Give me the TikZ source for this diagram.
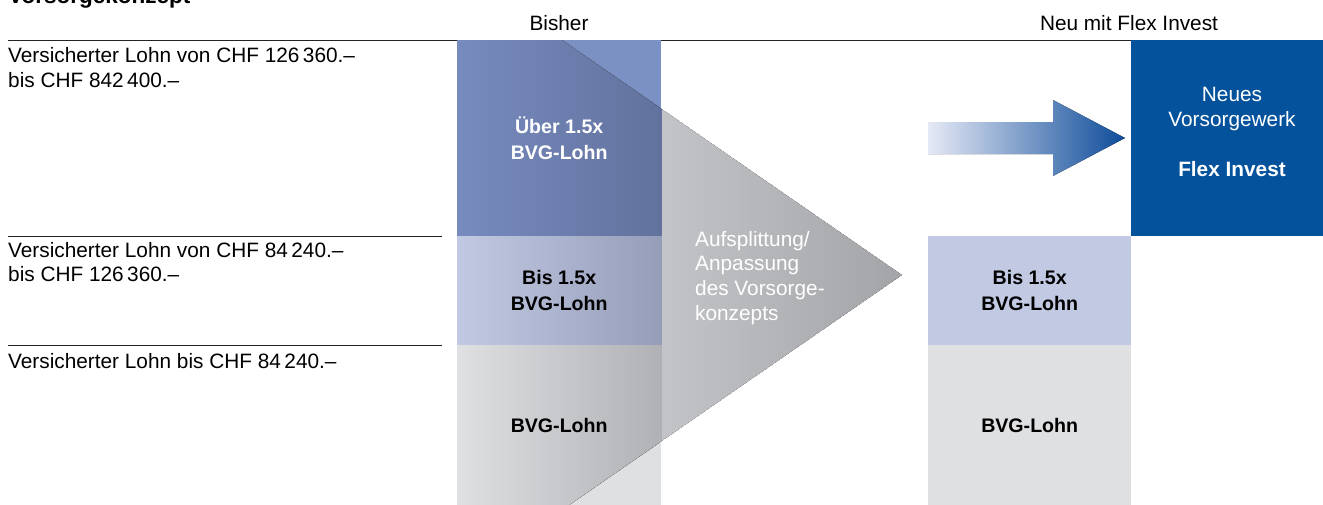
\documentclass[tikz,border=0pt]{standalone}
\usepackage{fontspec}
\setmainfont{Liberation Sans}
\usepackage{tikz}
\usetikzlibrary{positioning}
\usepackage{xcolor}

\definecolor{blueTop}{RGB}{123,145,196}
\definecolor{blueTopL}{RGB}{119,139,190}
\definecolor{blueTopR}{RGB}{98,114,158}
\definecolor{blueMid}{RGB}{193,201,227}
\definecolor{blueMidR}{RGB}{150,157,184}
\definecolor{greyLow}{RGB}{223,224,226}
\definecolor{greyLowR}{RGB}{176,177,181}
\definecolor{triL}{RGB}{222,223,227}
\definecolor{triR}{RGB}{163,164,168}
\definecolor{flexBlue}{RGB}{4,82,156}
\definecolor{arrowL}{RGB}{230,233,245}
\definecolor{arrowR}{RGB}{14,76,154}
\definecolor{ruleGrey}{RGB}{35,35,35}

\tikzset{
	txt/.style={font=\fontsize{20.8}{24.8}\selectfont, inner sep=0pt},
	boldtxt/.style={font=\fontsize{19.6}{25.5}\selectfont\bfseries, inner sep=0pt, align=center},
	colbox/.style={anchor=north west, inner sep=0pt, minimum width=204pt, draw=none},
	hrule/.style={draw=ruleGrey, line width=1pt}
}

\begin{document}
\begin{tikzpicture}[x=1pt,y=-1pt]
		\useasboundingbox (0,0) rectangle (1323,504);

		% titles and rules
		\node[font=\fontsize{22.5}{26}\selectfont\bfseries, anchor=base west, inner sep=0pt] (title) at (8,3) {Vorsorgekonzept};
		\node[txt, anchor=base] (hBisher) at (559,30.5) {Bisher};
		\node[txt, anchor=base] (hNeu) at (1129,30) {Neu mit Flex Invest};
		\draw[hrule] (8,40) -- (1323,40);
		\draw[hrule] (8,236) -- (442,236);
		\draw[hrule] (8,345) -- (442,345);

		\node[txt, align=left, anchor=base west] (lohnA) at (8,87.3) {Versicherter Lohn von CHF 126\,360.–\\bis CHF 842\,400.–};
		\node[txt, align=left, anchor=base west] (lohnB) at (8,281.8) {Versicherter Lohn von CHF 84\,240.–\\bis CHF 126\,360.–};
		\node[txt, align=left, anchor=base west] (lohnC) at (8,368.3) {Versicherter Lohn bis CHF 84\,240.–};

		% bisher column
		\node[colbox, fill=blueTop, minimum height=196pt] (bTop) at (457,40) {};
		\node[colbox, fill=blueMid, minimum height=109pt] (bMid) at (457,236) {};
		\node[colbox, fill=greyLow, minimum height=160pt] (bLow) at (457,345) {};

		% triangle
		\coordinate (tA) at (457,-32.5);
		\coordinate (tip) at (902,275);
		\coordinate (tB) at (457,582.5);
		\begin{scope}
			\clip (0,40) rectangle (1323,504);
			\clip (tA) -- (tip) -- (tB) -- cycle;
			\fill[left color=triL, right color=triR] (tA) -- (tip) -- (tB) -- cycle;
			\fill[left color=blueTopL, right color=blueTopR] (bTop.north west) rectangle (bTop.south east);
			\fill[left color=blueMid, right color=blueMidR] (bMid.north west) rectangle (bMid.south east);
			\fill[left color=greyLow, right color=greyLowR] (bLow.north west) rectangle (bLow.south east);
		\end{scope}

		% neu column
		\node[colbox, fill=flexBlue, minimum width=192pt, minimum height=196pt] (nFlex) at (1131,40) {};
		\node[colbox, fill=blueMid, minimum width=203pt, minimum height=109pt] (nMid) at (928,236) {};
		\node[colbox, fill=greyLow, minimum width=203pt, minimum height=160pt] (nLow) at (928,345) {};

		\fill[left color=arrowL, right color=arrowR] (928,122) -- (1053,122) -- (1053,100) -- (1125,138)
			-- (1053,176) -- (1053,154) -- (928,154) -- cycle;

		% box labels
		\node[boldtxt, text=white] (lTop) at (bTop.center) {Über 1.5x\\BVG-Lohn};
		\node[boldtxt] (lMid) at (bMid.center) {Bis 1.5x\\BVG-Lohn};
		\node[boldtxt] (lLow) at (bLow.center) {BVG-Lohn};
		\node[boldtxt] (rMid) at (nMid.center) {Bis 1.5x\\BVG-Lohn};
		\node[boldtxt] (rLow) at (nLow.center) {BVG-Lohn};
		\node[txt, text=white, align=left, anchor=base west] (split) at (695,320.5) {Aufsplittung/\\Anpassung\\des Vorsorge-\\konzepts};
		\node[txt, text=white, align=center, anchor=base] (flex) at (1232,176) {Neues\\Vorsorgewerk\\[25pt]\textbf{Flex Invest}};
	\end{tikzpicture}
\end{document}
